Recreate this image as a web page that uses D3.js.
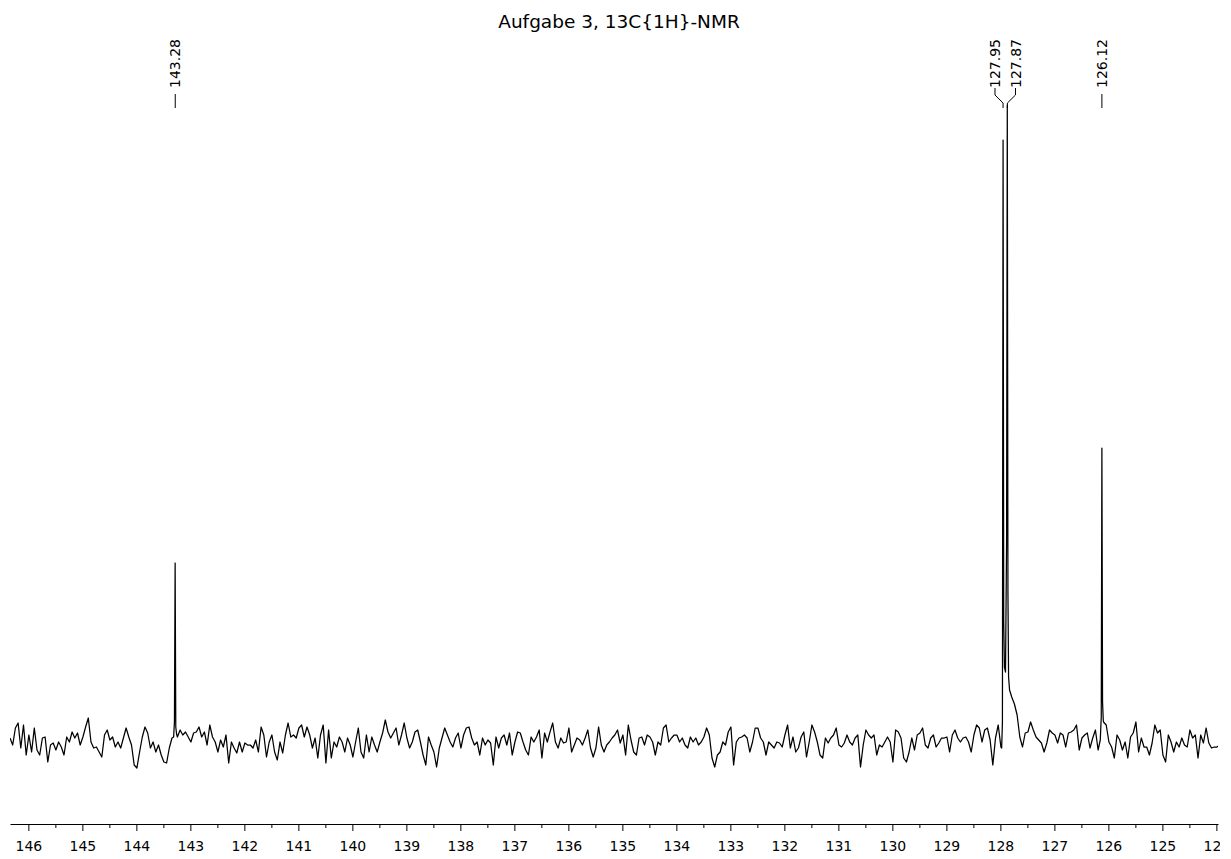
<!DOCTYPE html>
<html><head><meta charset="utf-8">
<script src="https://cdn.jsdelivr.net/npm/d3@7"></script>
<style>html,body{margin:0;padding:0;background:#fff;} svg{display:block;}</style>
</head><body>
<svg id="c" width="1231" height="859"></svg>
<script>
// ---------------- data ----------------
const title = "Aufgabe 3, 13C{1H}-NMR";
const majorTicks = [146,145,144,143,142,141,140,139,138,137,136,135,134,133,132,131,130,129,128,127,126,125,124];
const minorTicks = [145.5,144.5,143.5,142.5,141.5,140.5,139.5,138.5,137.5,136.5,135.5,134.5,133.5,132.5,131.5,130.5,129.5,128.5,127.5,126.5,125.5,124.5];
const ppmDomain = [146.34, 123.97];

// peak list (chemical shift, label)
const peakShifts = [143.28, 127.95, 127.87, 126.12];
const peakLabels = ["143.28", "127.95", "127.87", "126.12"];

// peak line shapes: [ppm, intensity]
const peakA = [[143.31,5],[143.295,20],[143.282,179],[143.27,15],[143.255,8]];
const peakB = [[127.976,-6],[127.962,20],[127.950,602],[127.938,120],[127.925,75],[127.905,70],[127.885,200],[127.872,637],[127.86,150],[127.848,65],[127.83,52]];
const peakC = [[126.15,2],[126.132,25],[126.12,294],[126.108,40],[126.095,22]];

// baseline (noise) sampled every 0.05 ppm from 146.34 ppm
const noiseStart = 146.34;
const noiseStep = 0.05;
const noise = [
4,-3,14,19,-6,17,-13,7,-10,14,
-8,-13,4,5,-20,-3,-1,-8,0,-5,
-13,5,0,10,4,9,-3,5,15,24,
0,-6,-5,-10,-15,7,12,2,5,-5,
0,-6,4,14,5,-3,-23,-26,-10,5,
15,9,-6,0,-10,-3,-13,-20,-21,-6,
4,10,5,12,7,10,5,0,9,10,
15,5,10,-3,17,5,0,-10,2,-5,
7,-21,0,-6,-11,0,-10,-1,-3,
-3,-6,2,-10,15,7,-15,0,7,-10,
-18,0,-11,7,19,5,7,4,14,17,
5,15,7,-6,4,-16,7,17,-21,12,
-16,0,-5,5,0,-10,4,-3,-15,0,
14,-10,-16,7,-10,5,-3,-10,0,9,
22,10,4,9,14,-3,7,19,4,-6,
0,10,12,0,-13,-23,5,-3,-10,-25,
-6,4,14,7,0,-5,4,9,-6,7,
14,15,4,-3,0,-13,4,-3,2,-1,
-23,
5,-6,4,7,-3,9,-13,0,10,9,
0,-8,-13,5,0,5,12,-16,9,0,
10,19,0,-6,4,-1,0,14,-10,-3,
4,2,-3,4,12,-6,-15,-6,15,-3,
-10,-3,0,4,7,12,-1,7,-13,17,
2,-10,-13,4,5,-3,7,5,0,-13,
0,-3,14,17,0,4,7,7,0,4,
-3,-6,5,0,4,-3,0,5,14,7,
-16,-25,-13,-10,0,-3,10,15,-23,0,
4,
5,7,4,-10,0,14,14,4,0,-13,
0,-3,-6,0,-1,-5,7,17,-6,5,
-10,-6,5,10,-15,0,17,10,0,-13,
-16,4,-1,4,7,14,-3,-5,-1,7,
0,-3,4,7,-25,-3,12,7,4,7,
-13,-3,-5,0,5,0,-20,12,10,4,
-16,-20,-10,4,-8,7,9,14,-3,-6,
4,7,-5,-1,4,4,5,-10,7,12,
4,0,4,5,0,-10,7,17,14,0,
12,14,2,-23,4,17,-5,10,10,40,
45,38,27,5,-5,9,10,20,12,5,
2,-1,-10,-1,12,9,7,-1,9,7,
-5,9,10,12,17,-8,4,7,9,-6,
4,12,-8,-3,20,17,0,-5,-16,7,
2,-8,0,-16,5,9,20,-10,4,-5,
-5,-13,-1,17,9,12,-13,-20,7,0,
-10,0,-5,4,-3,-5,12,4,7,-16,
7,-1,14,-1,-6,-5,-5,-3
];

// ---------------- drawing ----------------
const FONT = "'DejaVu Sans', Verdana, sans-serif";
const svg = d3.select("#c");

const x = d3.scaleLinear().domain(ppmDomain).range([10, 1218]);
const y = d3.scaleLinear().domain([-100, 700]).range([842, 42]);

// title
svg.append("text")
  .attr("x", 619).attr("y", 28)
  .attr("text-anchor", "middle")
  .style("font-family", FONT).style("font-size", "18.5px").attr("fill", "#000")
  .text(title);

// assemble spectrum points
const peaks = [peakA, peakB, peakC];
const ranges = peaks.map(p => [d3.min(p, d => d[0]), d3.max(p, d => d[0])]);
let pts = noise.map((v, i) => [noiseStart - noiseStep * i, v])
  .filter(p => !ranges.some(r => p[0] >= r[0] && p[0] <= r[1]));
peaks.forEach(p => { pts = pts.concat(p); });
pts.sort((a, b) => b[0] - a[0]);

svg.append("clipPath").attr("id", "plotclip")
  .append("rect").attr("x", 10).attr("y", 0).attr("width", 1208).attr("height", 820);

svg.append("path")
  .datum(pts)
  .attr("clip-path", "url(#plotclip)")
  .attr("fill", "none")
  .attr("stroke", "#000")
  .attr("stroke-width", 1.25)
  .attr("stroke-linejoin", "round")
  .attr("d", d3.line().x(d => x(d[0])).y(d => y(d[1])));

// axis
svg.append("clipPath").attr("id", "axisclip")
  .append("rect").attr("x", 0).attr("y", 800).attr("width", 1220).attr("height", 59);

const axisY = 824;
const gAxis = svg.append("g").attr("clip-path", "url(#axisclip)");
const major = gAxis.append("g").attr("transform", `translate(0,${axisY})`)
  .call(d3.axisBottom(x).tickValues(majorTicks).tickSize(7).tickSizeOuter(0).tickPadding(10.5).tickFormat(d3.format("d")));
major.selectAll("text").style("font-family", FONT).style("font-size", "14px").attr("fill", "#000");
major.selectAll("line, path").attr("stroke", "#000");
const minor = gAxis.append("g").attr("transform", `translate(0,${axisY})`)
  .call(d3.axisBottom(x).tickValues(minorTicks).tickSize(4).tickFormat(""));
minor.select(".domain").remove();
minor.selectAll("line").attr("stroke", "#000");

// peak labels
const labelBottom = 88;
const px = peakShifts.map(s => x(s));
const lx = px.slice();
const minGap = 20.5;
for (let i = 0; i < lx.length - 1; i++) {
  if (Math.abs(lx[i + 1] - lx[i]) < minGap) {
    const mid = (lx[i] + lx[i + 1]) / 2;
    lx[i] = mid - minGap / 2; lx[i + 1] = mid + minGap / 2;
  }
}
const gl = svg.append("g");
peakShifts.forEach((s, i) => {
  gl.append("text")
    .attr("transform", `translate(${lx[i]},${labelBottom}) rotate(-90)`)
    .attr("dy", "0.36em")
    .attr("text-anchor", "start")
    .style("font-family", FONT).style("font-size", "14px").attr("fill", "#000")
    .text(peakLabels[i]);
  let d;
  if (Math.abs(lx[i] - px[i]) < 0.5) {
    d = `M${px[i]},${labelBottom + 6}V${labelBottom + 20}`;
  } else {
    d = `M${lx[i]},${labelBottom}V${labelBottom + 7}L${px[i]},${labelBottom + 15}V${labelBottom + 20}`;
  }
  gl.append("path").attr("d", d).attr("fill", "none").attr("stroke", "#000").attr("stroke-width", 1);
});
</script>
</body></html>
